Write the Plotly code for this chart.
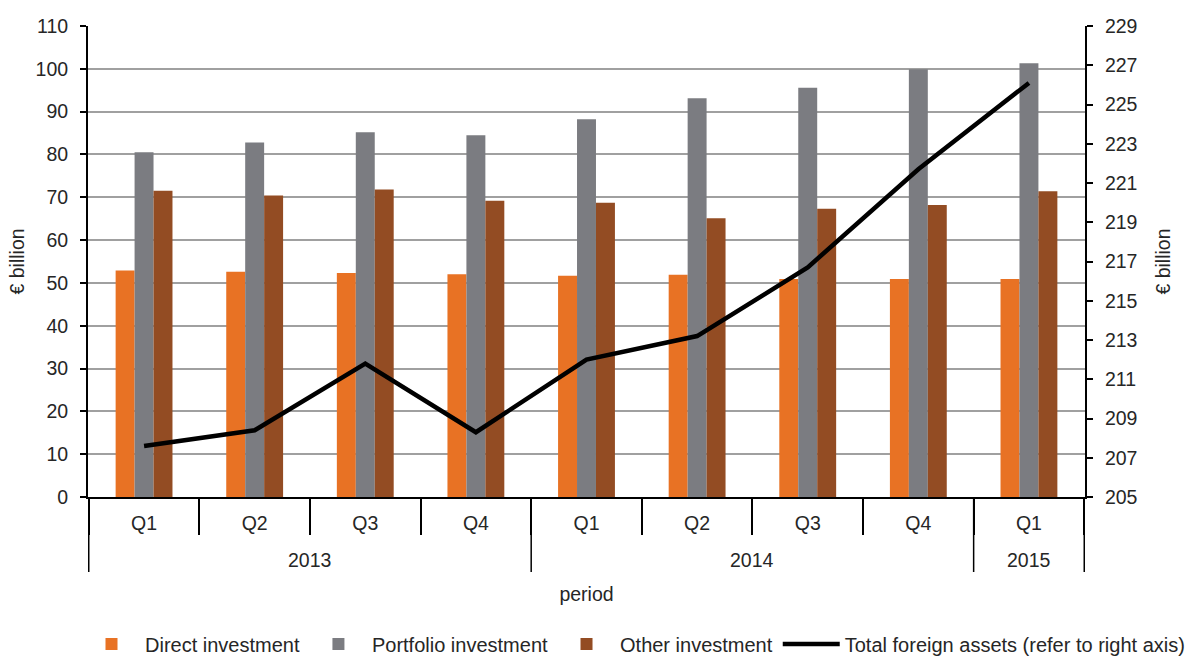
import plotly.graph_objects as go
from plotly.subplots import make_subplots

years = ["2013", "2013", "2013", "2013", "2014", "2014", "2014", "2014", "2015"]
quarters = ["Q1", "Q2", "Q3", "Q4", "Q1", "Q2", "Q3", "Q4", "Q1"]

direct = [52.9, 52.6, 52.3, 52.0, 51.7, 51.9, 50.9, 50.9, 50.9]
portfolio = [80.5, 82.8, 85.2, 84.5, 88.2, 93.1, 95.6, 99.9, 101.3]
other = [71.5, 70.4, 71.8, 69.2, 68.7, 65.1, 67.3, 68.2, 71.4]
total = [207.6, 208.4, 211.8, 208.3, 212.0, 213.2, 216.7, 221.7, 226.1]

FONT = "Liberation Sans, Arial, sans-serif"
TXT = "#262626"
FS = 19.5

W, H = 1195, 662
ML, MR, MT, MB = 88, 110, 26, 165
PLOT_W = W - ML - MR
PLOT_H = H - MT - MB

def px_below(p):
    """convert pixels below the x axis to paper y coordinate"""
    return -p / PLOT_H

# unique category ids, shown with the quarter label only
cats = [f"{y} {q}" for y, q in zip(years, quarters)]

fig = make_subplots(specs=[[{"secondary_y": True}]])

fig.add_trace(go.Bar(x=cats, y=direct, name="Direct investment",
                     marker=dict(color="#E87224", line=dict(width=0))), secondary_y=False)
fig.add_trace(go.Bar(x=cats, y=portfolio, name="Portfolio investment",
                     marker=dict(color="#7B7C81", line=dict(width=0))), secondary_y=False)
fig.add_trace(go.Bar(x=cats, y=other, name="Other investment",
                     marker=dict(color="#934C23", line=dict(width=0))), secondary_y=False)
fig.add_trace(go.Scatter(x=cats, y=total, name="Total foreign assets (refer to right axis)",
                         mode="lines", line=dict(color="black", width=4.5)), secondary_y=True)

# year groups: boundaries and centres from the data
groups = []
start = 0
for i in range(1, len(years) + 1):
    if i == len(years) or years[i] != years[start]:
        groups.append((years[start], start, i - 1))
        start = i

shapes = []
annotations = []
bounds = sorted({g[1] - 0.5 for g in groups} | {g[2] + 0.5 for g in groups})
for b in bounds:
    shapes.append(dict(type="line", xref="x", yref="paper", x0=b, x1=b,
                       y0=0, y1=px_below(75), line=dict(color="black", width=1.5)))
for name, a, b in groups:
    annotations.append(dict(x=(a + b) / 2, y=px_below(63), xref="x", yref="paper",
                            text=name, showarrow=False, yanchor="middle",
                            font=dict(family=FONT, size=FS, color=TXT)))

fig.update_layout(
    width=W, height=H,
    margin=dict(l=ML, r=MR, t=MT, b=MB, autoexpand=False),
    plot_bgcolor="white", paper_bgcolor="white",
    barmode="group", bargap=0.486, bargroupgap=0,
    font=dict(family=FONT, size=FS, color=TXT),
    legend=dict(orientation="h", xref="paper", yref="paper",
                x=(1190 - ML) / PLOT_W, xanchor="right",
                y=px_below(644 - 497), yanchor="middle",
                font=dict(size=20, color=TXT), itemwidth=57, tracegroupgap=0),
    showlegend=True,
    shapes=shapes,
    annotations=annotations,
)

fig.update_xaxes(
    type="category", automargin=False, domain=[0, 1],
    tickmode="array", tickvals=cats, ticktext=quarters,
    showline=True, linecolor="black", linewidth=2,
    ticks="outside", ticklen=36, tickcolor="black", tickwidth=1.5,
    tickson="boundaries", ticklabelstandoff=8,
    showgrid=False,
    tickfont=dict(size=FS, color=TXT),
    title=dict(text="period", font=dict(size=FS, color=TXT), standoff=54),
)

fig.update_yaxes(
    range=[0, 110], dtick=10, tick0=0, automargin=False,
    showgrid=True, gridcolor="#A0A0A0", gridwidth=1.5,
    showline=True, linecolor="black", linewidth=2,
    ticks="outside", ticklen=6, tickcolor="black", tickwidth=1.5,
    ticklabelstandoff=8,
    zeroline=False,
    tickfont=dict(size=FS, color=TXT),
    title=dict(text="€ billion", font=dict(size=FS, color=TXT), standoff=6),
    secondary_y=False,
)
fig.update_yaxes(
    range=[205, 229], dtick=2, tick0=205, automargin=False,
    showgrid=False,
    showline=True, linecolor="black", linewidth=2,
    ticks="outside", ticklen=6, tickcolor="black", tickwidth=1.5,
    ticklabelstandoff=8,
    zeroline=False,
    tickfont=dict(size=FS, color=TXT),
    title=dict(text="€ billion", font=dict(size=FS, color=TXT), standoff=20),
    secondary_y=True,
)

fig.write_html("out.html")
